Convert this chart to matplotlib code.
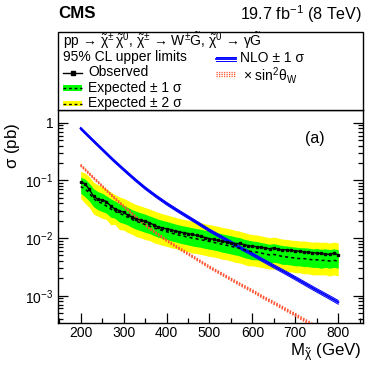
import numpy as np
import matplotlib.pyplot as plt
from matplotlib.patches import Rectangle
from matplotlib.lines import Line2D
from matplotlib.ticker import FixedLocator, FuncFormatter, LogLocator, NullFormatter

plt.rcParams['font.family'] = ['Liberation Sans', 'DejaVu Sans']
plt.rcParams['mathtext.fontset'] = 'custom'
plt.rcParams['mathtext.rm'] = 'Liberation Sans'
plt.rcParams['mathtext.it'] = 'Liberation Sans'
plt.rcParams['mathtext.bf'] = 'Liberation Sans:bold'

# masses for the limits (GeV)
mass = list(range(200, 801, 10))

observed = [0.093, 0.088, 0.070, 0.053, 0.047, 0.046, 0.043, 0.036, 0.032, 0.030,
            0.028, 0.025, 0.023, 0.0215, 0.0205, 0.0195, 0.0185, 0.0170, 0.0157, 0.0150,
            0.0145, 0.0140, 0.0133, 0.0128, 0.0124, 0.0120, 0.0116, 0.0111, 0.0107, 0.0102,
            0.0098, 0.0095, 0.0091, 0.0088, 0.0085, 0.0083, 0.0080, 0.0081, 0.0077, 0.0074,
            0.0072, 0.0071, 0.0069, 0.0068, 0.0065, 0.0068, 0.0064, 0.0062, 0.0063, 0.0061,
            0.0060, 0.0059, 0.0058, 0.0057, 0.0056, 0.0055, 0.0054, 0.0053, 0.0052, 0.0055,
            0.0051]

expected = [0.078, 0.072, 0.060, 0.048, 0.043, 0.040, 0.036, 0.032, 0.029, 0.027,
            0.025, 0.023, 0.021, 0.0195, 0.0183, 0.0172, 0.0162, 0.0152, 0.0142, 0.0135,
            0.0129, 0.0123, 0.0117, 0.0112, 0.0108, 0.0104, 0.0100, 0.0097, 0.0094, 0.0090,
            0.0087, 0.0084, 0.0081, 0.0078, 0.0075, 0.0072, 0.0069, 0.0067, 0.0063, 0.0060,
            0.0058, 0.0057, 0.0055, 0.0053, 0.0051, 0.0052, 0.0050, 0.0048, 0.0047, 0.0046,
            0.0045, 0.0044, 0.0044, 0.0043, 0.0042, 0.0042, 0.0041, 0.0041, 0.0040, 0.0041,
            0.0040]

exp_1s_up = [0.114, 0.106, 0.089, 0.072, 0.064, 0.060, 0.054, 0.048, 0.044, 0.040,
             0.037, 0.034, 0.031, 0.029, 0.0275, 0.026, 0.0243, 0.0228, 0.0213, 0.0203,
             0.0194, 0.0185, 0.0176, 0.0168, 0.0162, 0.0157, 0.0151, 0.0146, 0.0142, 0.0136,
             0.0132, 0.0127, 0.0123, 0.0118, 0.0114, 0.0110, 0.0105, 0.0102, 0.0096, 0.0092,
             0.0089, 0.0087, 0.0084, 0.0081, 0.0078, 0.0080, 0.0077, 0.0074, 0.0073, 0.0071,
             0.0070, 0.0068, 0.0068, 0.0067, 0.0065, 0.0066, 0.0064, 0.0065, 0.0063, 0.0065,
             0.0063]

exp_1s_dn = [0.060, 0.052, 0.044, 0.035, 0.031, 0.029, 0.027, 0.023, 0.022, 0.019,
             0.0180, 0.0168, 0.0152, 0.0142, 0.0134, 0.0126, 0.0120, 0.0111, 0.0104, 0.0099,
             0.0095, 0.0090, 0.0086, 0.0082, 0.0079, 0.0076, 0.0073, 0.0071, 0.0069, 0.0066,
             0.0064, 0.0062, 0.0060, 0.0057, 0.0055, 0.0053, 0.0051, 0.0049, 0.0046, 0.0044,
             0.0042, 0.0042, 0.0040, 0.0039, 0.0037, 0.0038, 0.0037, 0.0035, 0.0035, 0.0034,
             0.0033, 0.0033, 0.0032, 0.0032, 0.0031, 0.0031, 0.0030, 0.0031, 0.0030, 0.0031,
             0.0030]

exp_2s_up = [0.143, 0.136, 0.116, 0.094, 0.084, 0.079, 0.071, 0.063, 0.057, 0.052,
             0.049, 0.045, 0.041, 0.038, 0.036, 0.034, 0.032, 0.030, 0.028, 0.0265,
             0.0253, 0.0241, 0.0229, 0.0219, 0.0211, 0.0204, 0.0196, 0.0190, 0.0185, 0.0177,
             0.0171, 0.0165, 0.0160, 0.0153, 0.0148, 0.0143, 0.0136, 0.0132, 0.0125, 0.0119,
             0.0115, 0.0113, 0.0109, 0.0105, 0.0101, 0.0104, 0.0100, 0.0096, 0.0095, 0.0092,
             0.0091, 0.0089, 0.0089, 0.0087, 0.0085, 0.0086, 0.0084, 0.0085, 0.0082, 0.0085,
             0.0082]

exp_2s_dn = [0.049, 0.040, 0.034, 0.026, 0.024, 0.022, 0.021, 0.017, 0.0172, 0.0140,
             0.0138, 0.0124, 0.0116, 0.0105, 0.0101, 0.0094, 0.0091, 0.0083, 0.0079, 0.0075,
             0.0072, 0.0068, 0.0066, 0.0062, 0.0060, 0.0058, 0.0055, 0.0054, 0.0052, 0.0050,
             0.0048, 0.0047, 0.0045, 0.0043, 0.0042, 0.0040, 0.0038, 0.0037, 0.0035, 0.0033,
             0.0033, 0.0032, 0.0031, 0.0030, 0.0029, 0.0029, 0.0028, 0.0027, 0.0026, 0.0026,
             0.0025, 0.0025, 0.0024, 0.0024, 0.0023, 0.0023, 0.0023, 0.0023, 0.0022, 0.0023,
             0.0022]

# NLO cross section (pb) and its relative uncertainty
nlo_mass = list(range(200, 801, 25))
nlo = [0.80, 0.525, 0.347, 0.229, 0.155, 0.106, 0.074, 0.0537, 0.0398, 0.0302,
       0.0232, 0.0178, 0.0136, 0.0107, 0.0084, 0.0066, 0.00525, 0.0041, 0.00324, 0.00257,
       0.00202, 0.00158, 0.00124, 0.00098, 0.00077]
nlo_unc = [0.045, 0.045, 0.046, 0.047, 0.048, 0.049, 0.050, 0.051, 0.052, 0.053,
           0.054, 0.055, 0.056, 0.058, 0.059, 0.060, 0.062, 0.063, 0.065, 0.066,
           0.068, 0.070, 0.071, 0.073, 0.075]
# NLO x sin^2(theta_W)
nlo_sw = [0.184, 0.1208, 0.0798, 0.0527, 0.0357, 0.0244, 0.0170, 0.01235, 0.00915, 0.00695,
          0.00534, 0.00409, 0.00313, 0.00246, 0.00193, 0.00152, 0.00121, 0.00094, 0.00075, 0.00059,
          0.000465, 0.000363, 0.000285, 0.000225, 0.000177]

W, H = 382, 367
fig = plt.figure(figsize=(W / 100, H / 100), dpi=100)


def fx(x):
    return x / W


def fy(y):
    return 1 - y / H


ax = fig.add_axes([fx(57.5), fy(322.7), fx(362.7) - fx(57.5), fy(110) - fy(322.7)])

green = '#00ff00'
yellow = '#ffff00'
blue = '#0000ff'
red = '#ff5533'

ax.fill_between(mass, exp_2s_dn, exp_2s_up, color=yellow, lw=0, zorder=1)
ax.fill_between(mass, exp_1s_dn, exp_1s_up, color=green, lw=0, zorder=2)
ax.plot(mass, expected, color='black', ls=(0, (2, 2)), lw=1.1, zorder=4)

nlo_a = np.array(nlo)
sw_a = np.array(nlo_sw)
unc = np.array(nlo_unc)
for k in (-1, 1):
    ax.plot(nlo_mass, sw_a * (1 + k * unc * 0.7), color=red, ls=(0, (1, 1)), lw=1.1, zorder=3)
ax.plot(nlo_mass, sw_a, color=red, ls=(0, (1, 1)), lw=1.1, zorder=3)

for k in (-1, 1):
    ax.plot(nlo_mass, nlo_a * (1 + k * unc), color=blue, lw=0.7, zorder=3)
ax.plot(nlo_mass, nlo_a, color=blue, lw=1.5, zorder=3)

ax.plot(mass, observed, color='black', lw=1.0, marker='s', ms=2.0, zorder=5)

ax.set_yscale('log')
ax.set_xlim(146, 857)
ax.set_ylim(3.4e-4, 1.67)

ax.xaxis.set_major_locator(FixedLocator([200, 300, 400, 500, 600, 700, 800]))
ax.xaxis.set_minor_locator(FixedLocator([150, 250, 350, 450, 550, 650, 750, 850]))
ax.yaxis.set_major_locator(LogLocator(base=10, numticks=10))
ax.yaxis.set_minor_locator(LogLocator(base=10, subs=np.arange(2, 10), numticks=20))
ax.yaxis.set_minor_formatter(NullFormatter())


def yfmt(v, pos):
    e = int(round(np.log10(v)))
    return '1' if e == 0 else r'$10^{%d}$' % e


ax.yaxis.set_major_formatter(FuncFormatter(yfmt))
ax.tick_params(which='both', direction='in', width=0.9, labelsize=10)
ax.tick_params(axis='y', which='both', right=True)
ax.tick_params(which='major', length=7)
ax.tick_params(which='minor', length=3.5)
ax.tick_params(axis='x', pad=2.5)
ax.tick_params(axis='y', pad=3)
for s in ax.spines.values():
    s.set_linewidth(1.0)

fig.text(fx(315), fy(138), '(a)', fontsize=11.5, ha='center', va='center')

# axis titles
fig.text(fx(362), fy(356), r'M$_{\tilde{\chi}}$ (GeV)', ha='right', va='baseline', fontsize=12.2)
fig.text(fx(13), fy(146), r'$\sigma$ (pb)', ha='center', va='center', rotation=90, fontsize=12.2)

# header
fig.text(fx(58), fy(14), 'CMS', ha='left', va='center', fontsize=12.2, fontweight='bold')
fig.text(fx(362), fy(14), r'19.7 fb$^{-1}$ (8 TeV)', ha='right', va='center', fontsize=11.6)

# legend box
fig.patches.append(Rectangle((fx(57.5), fy(110)), fx(362.7) - fx(57.5), fy(32) - fy(110),
                             transform=fig.transFigure, facecolor='white', edgecolor='black', lw=1.0))
fs = 10
fig.text(fx(63), fy(41),
         r'pp → $\tilde{\chi}^{\pm}\,\tilde{\chi}^{0}$, $\tilde{\chi}^{\pm}$ → W$^{\pm}\tilde{\mathrm{G}}$, '
         r'$\tilde{\chi}^{0}$ → γ$\tilde{\mathrm{G}}$',
         ha='left', va='center', fontsize=fs)
fig.text(fx(63), fy(57.5), '95% CL upper limits', ha='left', va='center', fontsize=fs)
fig.text(fx(88), fy(72.5), 'Observed', ha='left', va='center', fontsize=fs)
fig.text(fx(88), fy(88), r'Expected ± 1 σ', ha='left', va='center', fontsize=fs)
fig.text(fx(88), fy(103.5), r'Expected ± 2 σ', ha='left', va='center', fontsize=fs)
fig.text(fx(240), fy(58.5), r'NLO ± 1 σ', ha='left', va='center', fontsize=fs)
fig.text(fx(243), fy(75), r'× sin$^{2}\theta_{\mathrm{W}}$', ha='left', va='center', fontsize=fs)

# legend symbols
fig.lines.append(Line2D([fx(63), fx(82)], [fy(72.5), fy(72.5)], transform=fig.transFigure,
                        color='black', lw=1.0))
fig.lines.append(Line2D([fx(72.5)], [fy(72.5)], transform=fig.transFigure,
                        color='black', marker='s', ms=2.4, lw=0))
for yy, col in ((88, green), (103.5, yellow)):
    fig.patches.append(Rectangle((fx(63), fy(yy + 2.8)), fx(82) - fx(63), fy(yy - 2.8) - fy(yy + 2.8),
                                 transform=fig.transFigure, facecolor=col, lw=0))
    fig.lines.append(Line2D([fx(63), fx(82)], [fy(yy), fy(yy)], transform=fig.transFigure,
                            color='black', ls=(0, (2, 2)), lw=1.0))
for dy, lw in ((-2.3, 0.7), (0, 1.3), (2.3, 0.7)):
    fig.lines.append(Line2D([fx(216), fx(236)], [fy(59 + dy), fy(59 + dy)], transform=fig.transFigure,
                            color=blue, lw=lw))
for dy in (-2.3, 0, 2.3):
    fig.lines.append(Line2D([fx(216), fx(236)], [fy(74 + dy), fy(74 + dy)], transform=fig.transFigure,
                            color=red, ls=(0, (1, 1)), lw=0.9))

fig.savefig('out.png', dpi=100)
